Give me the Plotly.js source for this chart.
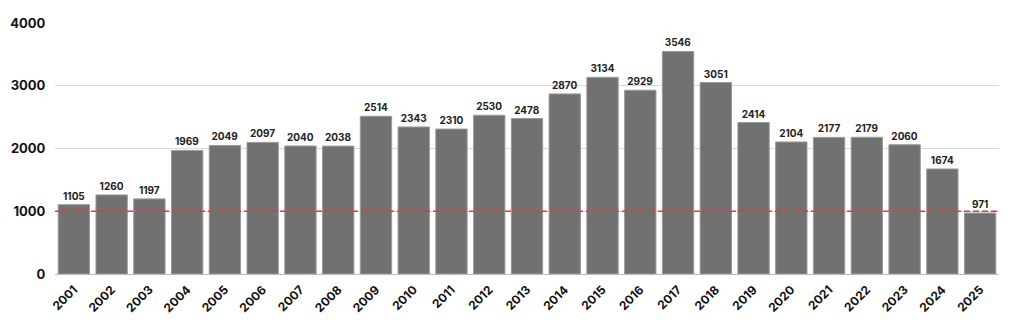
<!DOCTYPE html>
<html><head><meta charset="utf-8">
<script src="https://cdn.plot.ly/plotly-3.0.1.min.js"></script>
<style>html,body{margin:0;padding:0;background:#fff}#c{width:1024px;height:326px}</style>
</head><body><div id="c"></div>
<script>
const years = ['2001','2002','2003','2004','2005','2006','2007','2008','2009','2010','2011','2012','2013','2014','2015','2016','2017','2018','2019','2020','2021','2022','2023','2024','2025'];
const counts = [1105,1260,1197,1969,2049,2097,2040,2038,2514,2343,2310,2530,2478,2870,3134,2929,3546,3051,2414,2104,2177,2179,2060,1674,971];
const threshold = 1000;
const yTicks = [0,1000,2000,3000,4000];

const FONT = 'Inter, "Open Sans", sans-serif';
Plotly.newPlot('c', [{
  type:'bar', x:years, y:counts,
  marker:{color:'#717171', line:{color:'#9a9a9a', width:1}},
  text:counts.map(String), textposition:'outside', cliponaxis:false,
  textfont:{family:FONT, size:10, color:'#222', weight:700},
  hoverinfo:'skip'
}], {
  width:1024, height:326,
  margin:{l:55, r:25, t:23, b:52},
  paper_bgcolor:'#fff', plot_bgcolor:'#fff',
  bargap:0.17,
  showlegend:false,
  xaxis:{type:'category', tickangle:-45, showgrid:false, ticks:'outside', ticklen:3, tickcolor:'rgba(0,0,0,0)', zeroline:false,
    showline:false,
    tickfont:{family:FONT, size:12, color:'#111', weight:700}},
  yaxis:{range:[0,4000], tickvals:yTicks, ticktext:yTicks.map(String), showgrid:true, gridcolor:'#d9d9d9',
    zeroline:true, zerolinecolor:'#bbb', zerolinewidth:1, ticks:'outside', ticklen:6, tickcolor:'rgba(0,0,0,0)',
    tickfont:{family:FONT, size:13, color:'#111', weight:700}},
  shapes:[{type:'line', xref:'paper', x0:0, x1:1, yref:'y', y0:threshold, y1:threshold,
    line:{color:'#e53935', width:1.3, dash:'6px,3px'}, layer:'above'}]
}, {displayModeBar:false, staticPlot:true});
</script></body></html>
